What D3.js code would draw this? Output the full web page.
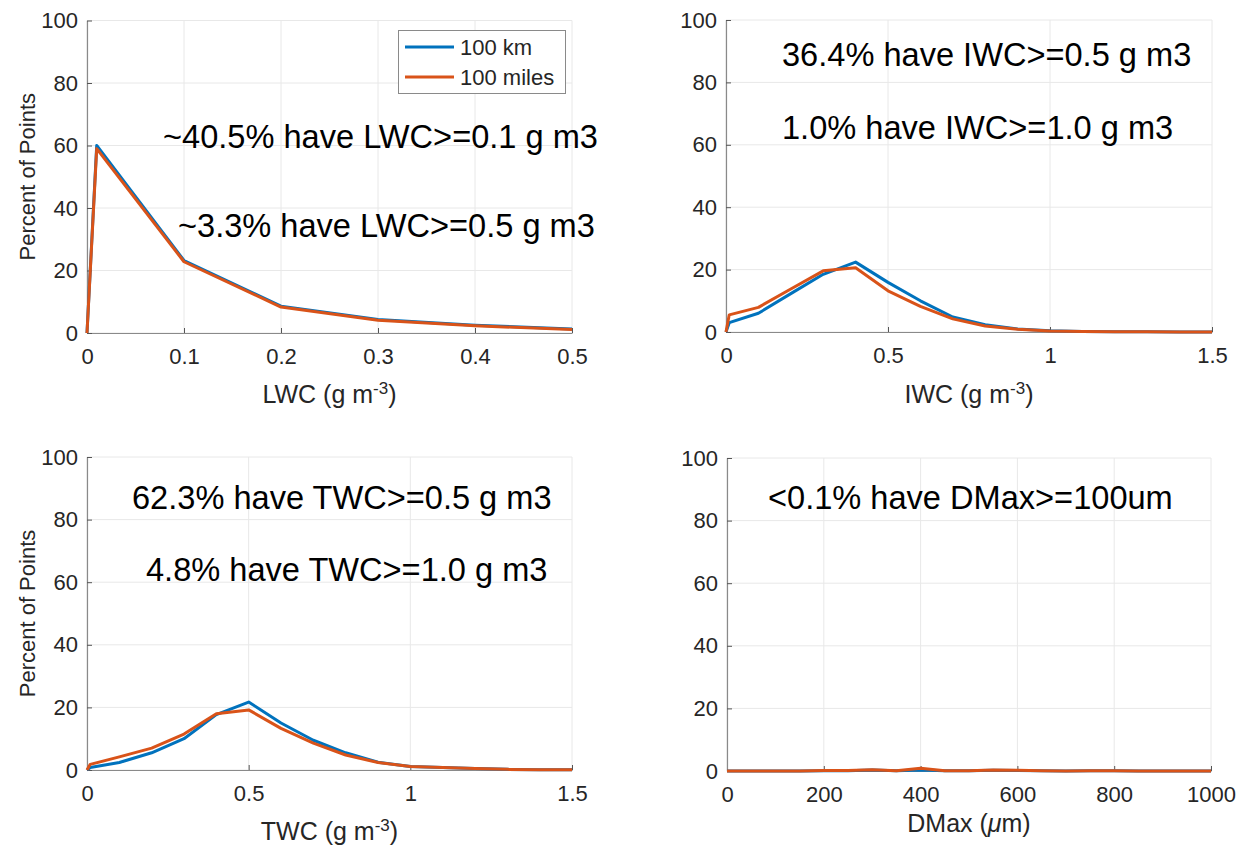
<!DOCTYPE html>
<html><head><meta charset="utf-8">
<script src="https://cdn.jsdelivr.net/npm/d3@7"></script>
<style>body{margin:0;background:#fff}svg{display:block;font-family:"Liberation Sans",Arial,Helvetica,sans-serif}</style>
</head><body><svg id="c" width="1245" height="848"></svg>
<script>
// ---- data ----
const seriesNames = ["100 km", "100 miles"];
const colors = ["#0072BD", "#D95319"];

const lwcX = [0, 0.01, 0.1, 0.2, 0.3, 0.4, 0.5];
const lwcKm = [0, 60, 23.2, 8.6, 4.3, 2.5, 1.3];
const lwcMiles = [0, 59, 22.8, 8.3, 4.1, 2.3, 1.1];

const iwcX = [0, 0.01, 0.1, 0.2, 0.3, 0.4, 0.5, 0.6, 0.7, 0.8, 0.9, 1.0, 1.1, 1.2, 1.3, 1.4, 1.5];
const iwcKm = [0, 3.0, 6.0, 12.3, 18.5, 22.4, 15.9, 10.0, 4.8, 2.3, 1.0, 0.4, 0.2, 0.1, 0.05, 0.02, 0];
const iwcMiles = [0, 5.5, 7.9, 13.8, 19.6, 20.6, 13.2, 8.2, 4.2, 1.9, 0.9, 0.3, 0.15, 0.1, 0.05, 0.02, 0];

const twcX = [0, 0.01, 0.1, 0.2, 0.3, 0.4, 0.5, 0.6, 0.7, 0.8, 0.9, 1.0, 1.1, 1.2, 1.3, 1.4, 1.5];
const twcKm = [0, 0.8, 2.4, 5.5, 10, 17.7, 21.7, 15, 9.5, 5.5, 2.5, 1.1, 0.8, 0.5, 0.2, 0.1, 0.1];
const twcMiles = [0, 1.8, 4.2, 7, 11.5, 18, 19.2, 13.3, 8.6, 4.8, 2.4, 1.1, 0.8, 0.5, 0.2, 0.1, 0.1];

const dmaxX = [0, 50, 100, 150, 200, 250, 300, 350, 400, 450, 500, 550, 600, 650, 700, 750, 800, 850, 900, 950, 1000];
const dmaxKm = [0, 0, 0, 0, 0.1, 0.1, 0.3, 0.05, 0.3, 0.05, 0.1, 0.2, 0.15, 0.1, 0, 0.05, 0.05, 0, 0, 0, 0];
const dmaxMiles = [0, 0, 0, 0, 0.15, 0.15, 0.4, 0.1, 0.9, 0.1, 0.1, 0.3, 0.2, 0.1, 0, 0.1, 0.05, 0, 0, 0, 0];

const yTicks = [0, 20, 40, 60, 80, 100];
const lwcTicks = [0, 0.1, 0.2, 0.3, 0.4, 0.5];
const wcTicks = [0, 0.5, 1, 1.5];
const dmaxTicks = [0, 200, 400, 600, 800, 1000];

const yLabel = "Percent of Points";
const notes1 = ["~40.5% have LWC>=0.1 g m3", "~3.3% have LWC>=0.5 g m3"];
const notes2 = ["36.4% have IWC>=0.5 g m3", "1.0% have IWC>=1.0 g m3"];
const notes3 = ["62.3% have TWC>=0.5 g m3", "4.8% have TWC>=1.0 g m3"];
const notes4 = ["<0.1% have DMax>=100um"];

// ---- layout ----
const svg = d3.select("#c");
const panels = [
  {x: lwcX, s: [lwcKm, lwcMiles], dom: [0, 0.5], ticks: lwcTicks, l: 87, r: 572, t: 20.5, b: 333,
   xl: ["LWC (g m", "-3", ")"], xlY: 403, yl: true, legend: true,
   notes: notes1, noteX: [163, 178], noteY: [148, 237]},
  {x: iwcX, s: [iwcKm, iwcMiles], dom: [0, 1.5], ticks: wcTicks, l: 726, r: 1212, t: 20, b: 332,
   xl: ["IWC (g m", "-3", ")"], xlY: 403, yl: false,
   notes: notes2, noteX: [782, 782], noteY: [66, 139]},
  {x: twcX, s: [twcKm, twcMiles], dom: [0, 1.5], ticks: wcTicks, l: 87, r: 572, t: 457, b: 770,
   xl: ["TWC (g m", "-3", ")"], xlY: 840, yl: true,
   notes: notes3, noteX: [132, 146], noteY: [509, 581]},
  {x: dmaxX, s: [dmaxKm, dmaxMiles], dom: [0, 1000], ticks: dmaxTicks, l: 727, r: 1211, t: 458, b: 771,
   xl: ["DMax (", "\u03bc", "m)"], xlY: 832, yl: false, mu: true,
   notes: notes4, noteX: [768], noteY: [509]}
];

const tickColor = "#262626";
panels.forEach(p => {
  const x = d3.scaleLinear().domain(p.dom).range([p.l, p.r]);
  const y = d3.scaleLinear().domain([0, 100]).range([p.b, p.t]);
  const g = svg.append("g");
  // grid
  g.append("g").selectAll("line").data(yTicks).join("line")
    .attr("x1", p.l).attr("x2", p.r).attr("y1", d => y(d)).attr("y2", d => y(d))
    .attr("stroke", "#e8e8e8").attr("stroke-width", 1);
  g.append("g").selectAll("line").data(p.ticks).join("line")
    .attr("x1", d => x(d)).attr("x2", d => x(d)).attr("y1", p.t).attr("y2", p.b)
    .attr("stroke", "#e8e8e8").attr("stroke-width", 1);
  // axes
  const fmt = d => String(d);
  const ax = g.append("g").attr("transform", `translate(0,${p.b})`)
    .call(d3.axisBottom(x).tickValues(p.ticks).tickFormat(fmt).tickSizeInner(-5).tickSizeOuter(0).tickPadding(15));
  const ay = g.append("g").attr("transform", `translate(${p.l},0)`)
    .call(d3.axisLeft(y).tickValues(yTicks).tickFormat(fmt).tickSizeInner(-5).tickSizeOuter(0).tickPadding(9));
  [ax, ay].forEach(a => {
    a.select(".domain").attr("stroke", "#8a8a8a").attr("stroke-width", 1.2);
    a.selectAll(".tick line").attr("stroke", "#555");
    a.selectAll("text").attr("fill", tickColor).style("font-size", "22px").style("font-family", '"Liberation Sans",Arial,sans-serif');
  });
  // lines
  const line = d3.line().x(d => x(d[0])).y(d => y(d[1]));
  p.s.forEach((vals, i) => {
    g.append("path").datum(p.x.map((xv, j) => [xv, vals[j]]))
      .attr("d", line).attr("fill", "none").attr("stroke", colors[i])
      .attr("stroke-width", 3).attr("stroke-linejoin", "round");
  });
  // x label
  const xt = g.append("text").attr("x", (p.l + p.r) / 2).attr("y", p.xlY)
    .attr("text-anchor", "middle").attr("fill", tickColor).style("font-size", "25px");
  if (p.mu) {
    xt.append("tspan").text(p.xl[0]);
    xt.append("tspan").text(p.xl[1]).style("font-style", "italic");
    xt.append("tspan").text(p.xl[2]);
  } else {
    xt.append("tspan").text(p.xl[0]);
    xt.append("tspan").text(p.xl[1]).attr("dy", -9).style("font-size", "17px");
    xt.append("tspan").text(p.xl[2]).attr("dy", 9);
  }
  if (p.yl) {
    g.append("text").attr("transform", `translate(35,${(p.t + p.b) / 2}) rotate(-90)`)
      .attr("text-anchor", "middle").attr("fill", tickColor).style("font-size", "22px").text(yLabel);
  }
  // notes
  p.notes.forEach((n, i) => {
    g.append("text").attr("x", p.noteX[i]).attr("y", p.noteY[i]).attr("fill", "#000")
      .style("font-size", "32.6px").text(n);
  });
  // legend
  if (p.legend) {
    const lg = g.append("g");
    lg.append("rect").attr("x", 398.5).attr("y", 30.5).attr("width", 167).attr("height", 63)
      .attr("fill", "#fff").attr("stroke", "#8a8a8a").attr("stroke-width", 1);
    seriesNames.forEach((nm, i) => {
      const yy = 47 + i * 30;
      lg.append("line").attr("x1", 405).attr("x2", 454).attr("y1", yy).attr("y2", yy)
        .attr("stroke", colors[i]).attr("stroke-width", 3);
      lg.append("text").attr("x", 460).attr("y", yy + 8).attr("fill", tickColor)
        .style("font-size", "22px").text(nm);
    });
  }
});
</script></body></html>
